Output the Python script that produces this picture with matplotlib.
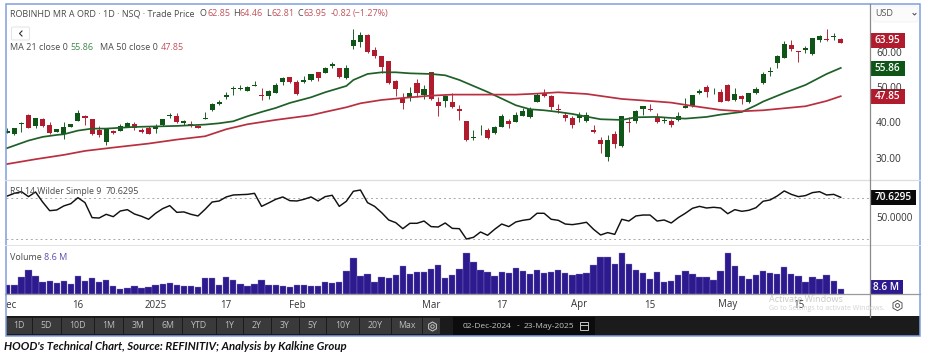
import matplotlib
matplotlib.use("Agg")
import matplotlib.pyplot as plt
from matplotlib.patches import Rectangle, FancyBboxPatch

plt.rcParams['font.family'] = ['Open Sans', 'DejaVu Sans']

W, H = 931, 356

# candles: top and bottom of body, high, low
body_top = [38.0, 38.7, 40.3, 42.6, 41.6, 41.3, 39.7, 38.5, 39.2, 40.1,
            43.1, 42.3, 41.3, 38.3, 38.5, 37.9, 39.5, 40.3, 40.1, 38.2,
            38.9, 39.2, 41.3, 42.6, 42.3, 40.7, 39.9, 39.5, 41.7, 45.5,
            46.1, 48.2, 50.1, 50.2, 50.4, 51.1, 48.3, 49.3, 51.1, 53.0,
            53.2, 51.9, 52.5, 54.0, 54.7, 55.8, 57.1, 55.8, 55.7, 63.7,
            65.1, 65.2, 60.9, 59.1, 57.8, 52.2, 47.4, 48.8, 51.6, 50.0,
            54.6, 46.2, 48.0, 46.2, 44.3, 40.8, 36.4, 39.2, 38.2, 39.2,
            42.1, 40.8, 42.6, 43.6, 44.3, 48.3, 48.7, 47.9, 44.1, 42.5,
            41.6, 42.4, 42.5, 38.2, 35.5, 35.4, 37.0, 42.2, 40.6, 43.7,
            45.0, 44.2, 41.9, 41.0, 40.7, 42.1, 45.2, 48.1, 49.3, 50.4,
            49.4, 49.1, 51.1, 48.5, 47.9, 48.7, 49.9, 54.2, 54.9, 59.1,
            62.5, 62.4, 60.6, 61.6, 64.2, 64.9, 64.0, 64.8, 63.95]
body_bot = [37.5, 37.0, 40.1, 38.9, 39.5, 39.4, 37.3, 37.8, 37.1, 39.2,
            40.8, 41.6, 37.0, 36.9, 35.0, 37.5, 38.0, 39.2, 38.9, 37.7,
            37.2, 38.5, 39.7, 42.1, 40.5, 40.3, 39.7, 38.9, 41.5, 43.9,
            45.6, 47.7, 49.9, 50.0, 49.3, 50.8, 47.8, 47.8, 48.8, 52.0,
            52.0, 48.4, 51.9, 52.5, 53.1, 54.4, 56.3, 53.3, 53.1, 62.1,
            63.3, 60.5, 59.2, 56.0, 51.6, 49.9, 45.9, 47.3, 48.7, 48.1,
            47.0, 45.2, 46.6, 44.7, 43.7, 35.5, 36.1, 39.0, 35.9, 37.3,
            39.2, 40.0, 40.6, 42.2, 41.9, 46.2, 48.0, 44.7, 43.9, 41.8,
            39.7, 41.8, 40.7, 37.8, 34.4, 30.7, 34.2, 33.7, 40.2, 40.7,
            44.1, 44.0, 40.5, 40.8, 39.8, 41.0, 44.6, 45.1, 48.8, 49.1,
            49.2, 46.3, 46.6, 46.8, 47.1, 46.1, 48.7, 51.6, 54.6, 57.3,
            58.8, 61.3, 60.3, 60.9, 59.7, 63.9, 63.8, 64.7, 62.85]
highs = [38.8, 38.7, 40.5, 42.8, 41.6, 41.6, 40.4, 38.5, 40.4, 40.1,
         43.9, 42.5, 41.3, 39.4, 38.5, 38.3, 39.9, 40.6, 40.5, 38.7,
         39.4, 40.0, 41.4, 43.0, 43.0, 41.0, 40.7, 39.8, 43.5, 46.0,
         46.7, 49.1, 50.6, 51.0, 50.8, 52.2, 50.1, 49.6, 51.5, 53.4,
         53.2, 52.5, 53.6, 54.2, 54.8, 56.0, 57.5, 55.8, 56.6, 66.8,
         65.9, 65.6, 61.9, 59.2, 57.8, 52.5, 48.7, 50.5, 52.8, 51.1,
         54.7, 47.7, 48.2, 48.7, 45.3, 40.8, 38.2, 39.6, 38.7, 39.4,
         42.8, 41.3, 43.5, 44.4, 44.7, 48.8, 49.8, 48.1, 45.5, 43.5,
         42.1, 43.4, 43.5, 39.8, 36.4, 36.9, 38.0, 42.2, 41.9, 44.0,
         45.1, 45.6, 43.0, 41.9, 41.3, 43.3, 47.2, 48.2, 49.9, 50.9,
         50.1, 49.8, 51.2, 50.1, 48.2, 48.8, 50.4, 54.8, 56.2, 59.4,
         63.4, 63.8, 60.6, 62.1, 64.3, 65.3, 66.9, 65.8, 64.46]
lows = [37.4, 36.9, 37.8, 38.9, 38.9, 39.2, 37.2, 37.7, 35.7, 39.1,
        40.7, 39.7, 36.9, 36.2, 34.1, 37.2, 37.9, 39.1, 38.2, 37.5,
        37.1, 37.4, 39.5, 41.7, 40.2, 39.7, 39.0, 38.7, 41.3, 43.7,
        45.3, 47.1, 48.2, 49.5, 49.2, 50.6, 46.8, 47.0, 48.7, 51.0,
        51.7, 48.2, 51.7, 52.1, 52.2, 54.3, 55.7, 53.1, 52.6, 61.2,
        61.8, 60.0, 58.6, 54.5, 51.3, 47.9, 44.1, 46.6, 47.5, 47.1,
        46.9, 42.1, 44.9, 44.5, 41.1, 35.3, 35.5, 36.9, 35.8, 37.2,
        39.0, 38.9, 40.5, 42.1, 41.7, 46.1, 47.5, 44.0, 43.2, 40.7,
        38.8, 40.6, 40.6, 37.5, 31.7, 29.6, 33.1, 33.6, 37.8, 40.2,
        42.5, 43.7, 40.3, 40.2, 39.2, 40.9, 44.4, 44.9, 48.4, 47.7,
        48.4, 46.1, 46.5, 46.6, 45.6, 46.0, 48.5, 51.4, 53.6, 55.9,
        58.7, 60.7, 57.5, 60.0, 59.6, 63.3, 63.5, 63.8, 62.81]
candle_sides = ("GGGRGRRGGG" "GRRRGRGGRR" "RGGGRGRRGG" "GGGGGGRGGG"
                "RRGGRGGRGG" "GRRRRRRGRG" "RRGRRRGGRG" "GRGGGGRRRR"
                "RGGRRGRGRG" "GRRGRGGGGR" "GRRGRGGGGG" "GRRGGGRGR")

ma21_idx = [-1, 1, 3, 5, 7, 8, 10, 12, 14, 18, 22, 24, 28, 30, 32, 34, 36, 38, 40, 43,
            45, 48, 49, 51, 53, 55, 57, 60, 62, 64, 66, 68, 70, 72, 74, 76, 78, 80, 82, 84, 87,
            89, 92, 94, 96, 99, 101, 104, 106, 107, 110, 113, 115, 116, 118]
ma21_vals = [32.45, 33.87, 35.28, 36.32, 36.88, 37.07, 38.11, 38.67, 38.67, 39.15,
             39.33, 39.43, 39.81, 40.18, 40.75, 42.17, 43.39, 44.52, 45.94, 47.54,
             48.96, 50.75, 52.45, 54.15, 54.62, 54.62, 54.33, 54.15, 53.77, 52.45, 50.75,
             49.05, 47.17, 45.28, 44.15, 43.86, 43.39, 42.82, 42.07, 41.32, 41.13,
             41.88, 41.98, 41.69, 41.50, 41.98, 42.64, 43.39, 45.28, 46.32, 48.77,
             51.03, 53.11, 54.15, 55.86]
ma50_idx = [-1, 4, 8, 11, 15, 20, 24, 28, 31, 34, 38, 43, 45, 48, 50, 53, 56, 60, 63, 67,
            72, 75, 78, 82, 87, 91, 94, 97, 101, 104, 107, 110, 113, 116, 118]
ma50_vals = [28.30, 30.0, 31.22, 32.35, 33.30, 34.43, 35.56, 36.50, 38.49, 39.90, 41.13,
             42.45, 43.39, 44.71, 45.84, 46.79, 47.35, 48.01, 48.30, 48.30, 48.30, 48.58,
             48.96, 48.49, 47.07, 46.5, 46.03, 45.09, 43.96, 43.58, 43.86, 44.43, 45.0,
             46.5, 47.85]

rsi_vals = [71.9, 74.5, 76.1, 71.3, 75.8, 66.1, 57.7, 58.4, 62.3, 64.5,
            70.3, 65.5, 51.0, 50.6, 54.2, 51.9, 57.4, 58.7, 54.5, 52.3,
            49.4, 55.2, 59.7, 62.6, 56.1, 56.5, 54.2, 52.6, 59.0, 66.1,
            67.1, 71.0, 72.9, 73.2, 73.5, 74.5, 61.9, 65.2, 68.7, 71.0,
            67.4, 67.1, 68.7, 71.0, 67.1, 71.3, 72.6, 61.9, 66.8, 76.5,
            77.7, 65.5, 61.9, 55.8, 48.7, 46.1, 40.3, 45.5, 45.5, 47.7,
            42.3, 41.9, 45.8, 40.6, 40.3, 30.3, 31.9, 37.1, 33.9, 39.7,
            44.8, 42.3, 46.8, 48.4, 49.4, 55.2, 55.2, 49.4, 48.4, 44.8,
            44.2, 45.2, 46.5, 39.7, 34.2, 36.5, 34.8, 49.4, 47.7, 52.6,
            53.5, 53.5, 47.7, 48.7, 45.8, 51.0, 55.2, 60.0, 61.9, 60.3,
            61.0, 60.3, 54.8, 58.7, 57.1, 58.1, 60.6, 66.8, 68.1, 71.9,
            76.8, 73.5, 71.3, 72.3, 75.2, 76.1, 72.9, 73.5, 70.63]

# volume in millions
volume = [14.9, 14.9, 29.8, 40.7, 30.4, 21.2, 22.9, 19.5, 21.8, 16.6,
          30.4, 22.3, 27.5, 21.2, 24.6, 14.3, 9.2, 10.9, 13.2, 10.9,
          12.6, 16.0, 17.2, 18.9, 15.5, 13.2, 13.2, 12.0, 26.9, 26.9,
          16.0, 28.7, 24.6, 17.2, 14.3, 17.2, 24.6, 15.5, 15.5, 14.3,
          12.6, 16.0, 15.5, 14.3, 13.2, 21.2, 19.5, 20.1, 39.0, 61.3,
          31.5, 34.4, 21.2, 29.2, 27.5, 32.7, 47.6, 35.0, 38.4, 37.2,
          42.4, 49.9, 27.5, 32.7, 43.5, 70.5, 55.6, 40.7, 38.4, 30.9,
          37.2, 36.1, 45.3, 39.0, 35.0, 40.7, 35.5, 37.2, 41.8, 36.1,
          33.2, 35.0, 36.1, 49.9, 64.2, 64.2, 51.0, 69.9, 51.0, 40.7,
          36.7, 25.2, 37.8, 20.1, 22.9, 32.1, 39.0, 35.0, 28.7, 28.7,
          23.5, 40.1, 69.9, 47.6, 30.4, 26.4, 32.1, 40.1, 36.1, 33.8,
          45.8, 33.8, 30.4, 20.1, 28.7, 26.4, 32.7, 22.9, 8.6]

date_tick_idx = [0, 10, 21, 31, 41, 60, 70, 81, 91, 102, 112]
date_tick_labels = ["Dec", "16", "2025", "17", "Feb", "Mar", "17", "Apr", "15", "May", "15"]
price_ticks = [30, 40, 50, 60]
range_buttons = ["1D", "5D", "10D", "1M", "3M", "6M", "YTD", "1Y", "2Y", "3Y", "5Y", "10Y", "20Y", "Max"]
button_edges = [6, 32, 61, 94, 123, 153, 182, 216, 243, 271, 299, 326, 359, 391, 422]

GREEN = "#0f5518"
RED = "#b01c2e"
TEXT = "#4a4a4a"
PURPLE = "#2d1a8e"
X_RANGE = (-0.255, 122.0)


def panel(x0, y0, x1, y1):
    # axes placed by pixels, origin top left
    ax = fig.add_axes([x0 / W, 1 - y1 / H, (x1 - x0) / W, (y1 - y0) / H])
    ax.set_xlim(*X_RANGE)
    ax.set_xticks([])
    ax.set_yticks([])
    for s in ax.spines.values():
        s.set_visible(False)
    return ax


fig = plt.figure(figsize=(W / 100, H / 100), dpi=100, facecolor="white")

# price panel
ax_price = panel(5.5, 4, 869, 180)
ax_price.set_ylim(24.11, 73.97)
for i, side in enumerate(candle_sides):
    col = GREEN if side == "G" else RED
    ax_price.vlines(i, lows[i], highs[i], color=col, lw=0.65, zorder=3)
    ax_price.bar(i, body_top[i] - body_bot[i], bottom=body_bot[i], width=0.72, color=col, zorder=3)
ax_price.plot(ma21_idx, ma21_vals, color="#1f6028", lw=1.25, zorder=4)
ax_price.plot(ma50_idx, ma50_vals, color="#b92f40", lw=1.25, zorder=4)

# rsi panel
ax_rsi = panel(5.5, 180, 869, 245)
ax_rsi.set_ylim(24.5, 87.4)
ax_rsi.axhline(70, color="#a8a8a8", lw=0.7, ls=(0, (2, 3)))
ax_rsi.axhline(30, color="#a8a8a8", lw=0.7, ls=(0, (2, 3)))
ax_rsi.plot(range(len(rsi_vals)), rsi_vals, color="#111111", lw=1.05)

# volume panel
ax_vol = panel(5.5, 245, 869, 294)
ax_vol.set_ylim(0, 84.2)
ax_vol.bar(range(len(volume)), volume, width=0.9, color=PURPLE, edgecolor="#8f86c8", linewidth=0.25)

# date axis
ax_date = panel(5.5, 294, 869, 316)
ax_date.set_ylim(0, 1)
for pos, lab in zip(date_tick_idx, date_tick_labels):
    ax_date.text(pos, 0.5, lab, ha="center", va="center", fontsize=7, color="#333333", clip_on=True)

# everything around the plot, in pixel coordinates
ui = fig.add_axes([0, 0, 1, 1], zorder=5)
ui.set_xlim(0, W)
ui.set_ylim(H, 0)
ui.axis("off")
ui.patch.set_alpha(0)

# separators
ui.plot([5, 920], [179.5, 179.5], color="#dddddd", lw=0.9)
ui.plot([5, 920], [245, 245], color="#e2e2e2", lw=0.7)
ui.plot([5, 920], [294.3, 294.3], color="#9a9a9a", lw=0.9)
ui.plot([869.5, 869.5], [4, 317], color="#8a8a8a", lw=0.9)

# toolbar
ui.add_patch(Rectangle((6, 316), 914, 19.5, color="#1b1b1b", lw=0))
for lab, a, b in zip(range_buttons, button_edges[:-1], button_edges[1:]):
    ui.add_patch(Rectangle((a + 0.5, 317.5), b - a - 1, 16.5, color="#3a3a3a", lw=0))
    ui.text((a + b) / 2, 326, lab, ha="center", va="center", fontsize=6.3, color="#bdbdbd")
ui.add_patch(Rectangle((422.5, 317.5), 17, 16.5, color="#3a3a3a", lw=0))
ui.plot([432], [326], marker="h", ms=6.5, mfc="none", mec="#bdbdbd", mew=0.8)
ui.plot([432], [326], marker="o", ms=2.5, mfc="none", mec="#bdbdbd", mew=0.7)
ui.add_patch(Rectangle((453, 317), 142, 17.5, color="#0c0c0c", lw=0))
ui.text(463, 326, "02-Dec-2024", ha="left", va="center", fontsize=6.0, color="#c4c4c4")
ui.text(518, 326, "-", ha="center", va="center", fontsize=6.0, color="#c4c4c4")
ui.text(524, 326, "23-May-2025", ha="left", va="center", fontsize=6.0, color="#c4c4c4")
ui.add_patch(Rectangle((580, 322), 8, 8, fill=False, ec="#c4c4c4", lw=0.7))
ui.plot([580, 588], [324.5, 324.5], color="#c4c4c4", lw=0.7)

# frame
ui.add_patch(Rectangle((5.5, 3.5), 914.5, 332, fill=False, ec="#7f9fdc", lw=1.1))

# header text
ui.text(10, 13.5, "ROBINHD MR A ORD · 1D · NSQ · Trade Price", va="center", fontsize=6.5, color=TEXT)
for x, s, c in [(200, "O", TEXT), (207, "62.85", "#c2525c"), (233, "H", TEXT), (240, "64.46", "#c2525c"),
                (266, "L", TEXT), (271, "62.81", "#c2525c"), (297, "C", TEXT), (304, "63.95", "#c2525c"),
                (331, "-0.82", "#c2525c"), (353, "(−1.27%)", "#c2525c")]:
    ui.text(x, 13.5, s, va="center", fontsize=6.5, color=c)
ui.add_patch(FancyBboxPatch((11.5, 27), 18, 13, boxstyle="round,pad=0,rounding_size=1.5",
                            fc="white", ec="#e4e4e4", lw=0.7))
ui.plot([22, 19.5, 22], [31, 33.5, 36], color="#333333", lw=0.8)
ui.text(10, 47, "MA 21 close 0", va="center", fontsize=6.5, color=TEXT)
ui.text(70.5, 47, "55.86", va="center", fontsize=6.5, color="#3f8a4d")
ui.text(100, 47, "MA 50 close 0", va="center", fontsize=6.5, color=TEXT)
ui.text(161, 47, "47.85", va="center", fontsize=6.5, color="#c2525c")
ui.text(10, 192, "RSI 14 Wilder Simple 9", va="center", fontsize=6.3, color=TEXT)
ui.text(105.5, 192, "70.6295", va="center", fontsize=6.5, color=TEXT)
ui.text(10, 257, "Volume", va="center", fontsize=6.5, color=TEXT)
ui.text(44.5, 257, "8.6 M", va="center", fontsize=6.5, color="#5a4fb0")

# price scale
ui.add_patch(FancyBboxPatch((873, 6), 45, 16, boxstyle="round,pad=0,rounding_size=2",
                            fc="#fbfbfb", ec="#f0f0f0", lw=0.5))
ui.text(875, 14, "USD", va="center", fontsize=6.5, color="#555555")
ui.plot([913, 914.5, 916], [13.5, 15, 13.5], color="#444444", lw=0.7)
y_px = ax_price.transData
for p in price_ticks:
    ypos = H - y_px.transform((0, p))[1]
    ui.text(876, ypos, f"{p:.2f}", va="center", fontsize=7.3, color="#333333")
ui.text(876, 198, "70.0000", va="center", fontsize=7, color="#333333")
ui.text(876, 218.7, "50.0000", va="center", fontsize=7, color="#333333")


def tag(y, s, col, x1):
    ui.add_patch(Rectangle((870, y - 7.5), x1 - 870, 15, color=col, lw=0))
    ui.text((870 + x1) / 2, y, s, ha="center", va="center", fontsize=7.2, color="white", fontweight="semibold")


tag(40.2, "63.95", RED, 905)
tag(68.2, "55.86", GREEN, 905)
tag(96.3, "47.85", RED, 905)
tag(197.6, "70.6295", "#0a0a0a", 916)
tag(287, "8.6 M", PURPLE, 903)

# settings gear on the date axis
ui.plot([897], [305], marker="h", ms=7.5, mfc="none", mec="#555555", mew=0.7)
ui.plot([897], [305], marker="o", ms=2.8, mfc="none", mec="#555555", mew=0.7)

# windows watermark
ui.text(769, 299, "Activate Windows", va="center", fontsize=6.5, color="#c9c9c9")
ui.text(769, 309, "Go to Settings to activate Windows.", va="center", fontsize=5.0, color="#d2d2d2")

# caption
ui.text(4, 346.5, "HOOD's Technical Chart, Source: REFINITIV; Analysis by Kalkine Group", va="center",
        fontsize=8.2, family="Lato", fontweight="bold", fontstyle="italic", color="#111111")

fig.savefig("out.png", dpi=100)
